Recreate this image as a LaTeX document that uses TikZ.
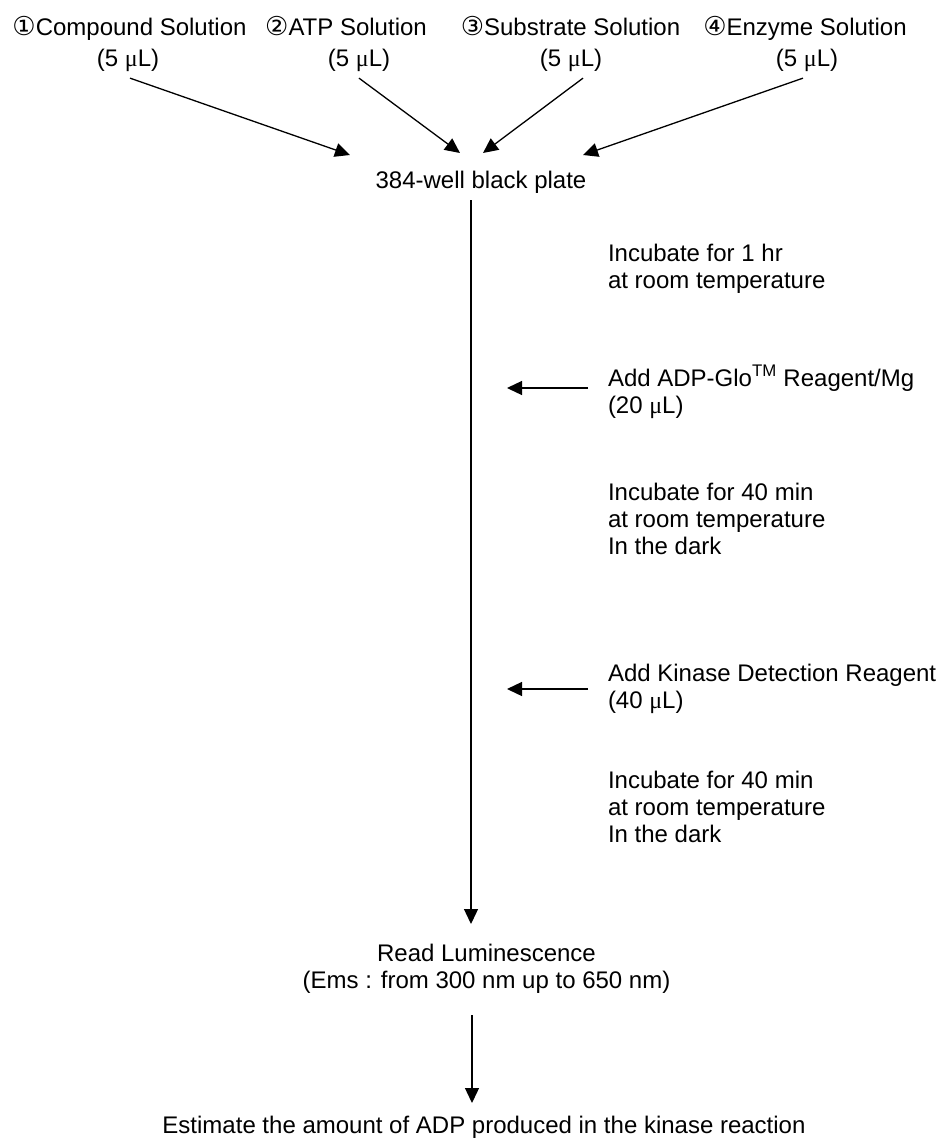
\documentclass[tikz,border=0pt]{standalone}
\usepackage{fontspec}
\setmainfont{Liberation Sans}
\newfontfamily\symf{DejaVu Sans}
\newfontfamily\serf{Liberation Serif}
\usetikzlibrary{arrows.meta}
\newcommand{\mul}{{\serf μ}L}
\newcommand{\circn}[1]{{\symf\fontsize{26}{26}\selectfont #1}}
\begin{document}
\begin{tikzpicture}[x=1pt,y=-1pt,
  lbl/.style={inner sep=0pt, outer sep=0pt, font=\fontsize{24}{27}\selectfont},
  side/.style={lbl, anchor=base west, align=left},
  arr/.style={-{Triangle[length=15pt,width=14pt]}, line width=1.3pt}]
\useasboundingbox (0,0) rectangle (940,1138);
% top labels
\node[lbl,anchor=base] (t1) at (129.5,35) {\circn{①}Compound Solution};
\node[lbl,anchor=base] (t2) at (346,35) {\circn{②}ATP Solution};
\node[lbl,anchor=base] (t3) at (570.5,35) {\circn{③}Substrate Solution};
\node[lbl,anchor=base] (t4) at (805,35) {\circn{④}Enzyme Solution};
\node[lbl,anchor=base] (v1) at (128,66) {(5 \mul)};
\node[lbl,anchor=base] (v2) at (359,66) {(5 \mul)};
\node[lbl,anchor=base] (v3) at (571,66) {(5 \mul)};
\node[lbl,anchor=base] (v4) at (807,66) {(5 \mul)};
% plate
\node[lbl,anchor=base] (plate) at (481,188) {384-well black plate};
\coordinate (e1) at (350,155);
\coordinate (e2) at (460,153);
\coordinate (e3) at (483,153);
\coordinate (e4) at (583,155);
\draw[arr] ([xshift=2pt,yshift=-7pt]v1.south) -- (e1);
\draw[arr] ([yshift=-7pt]v2.south) -- (e2);
\draw[arr] ([xshift=12pt,yshift=-7pt]v3.south) -- (e3);
\draw[arr] ([xshift=-4pt,yshift=-7pt]v4.south) -- (e4);
% side texts (base = baseline of last line)
\node[side] (inc1) at (608,288) {Incubate for 1 hr\\at room temperature};
\node[side] (add1) at (608,413) {Add ADP-Glo\textsuperscript{TM} Reagent/Mg\\(20 \mul)};
\node[side] (inc2) at (608,554) {Incubate for 40 min\\at room temperature\\In the dark};
\node[side] (add2) at (608,708) {Add Kinase Detection Reagent\\(40 \mul)};
\node[side] (inc3) at (608,842) {Incubate for 40 min\\at room temperature\\In the dark};
\coordinate (a1) at (507,388);
\coordinate (a2) at (507,689);
\draw[arr] ([xshift=-20pt,yshift=25pt]add1.base west) -- (a1);
\draw[arr] ([xshift=-20pt,yshift=19pt]add2.base west) -- (a2);
% read
\node[lbl,anchor=base,align=center] (read) at (486.5,988) {Read Luminescence\\(Ems : from 300 nm up to 650 nm)};
\coordinate (sa) at (471,200);
\coordinate (sb) at (471,924);
\draw[arr] (sa) -- (sb);
% estimate
\node[lbl,anchor=base] (est) at (484,1133) {Estimate the amount of ADP produced in the kinase reaction};
\coordinate (ra) at (472,1015);
\coordinate (rb) at (472,1103);
\draw[arr] (ra) -- (rb);
\end{tikzpicture}
\end{document}
